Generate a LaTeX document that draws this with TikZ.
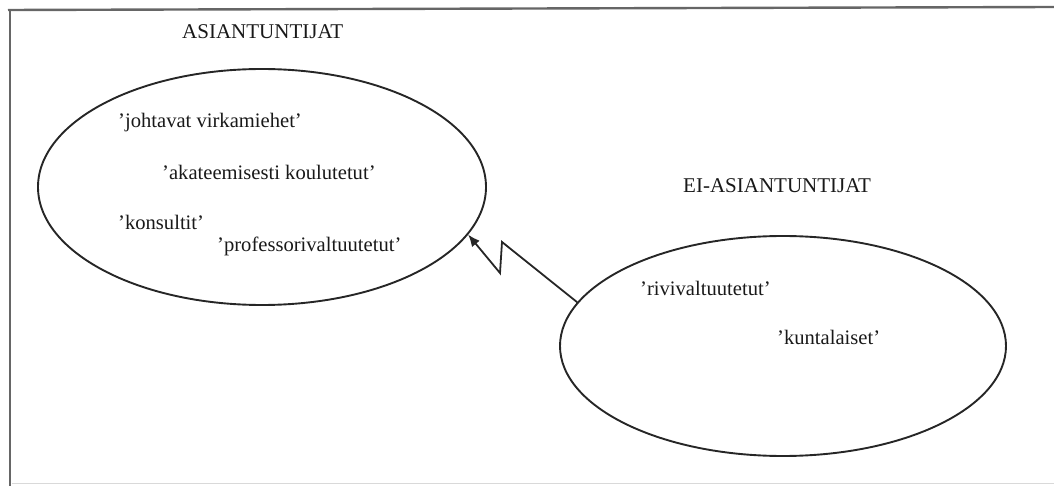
\documentclass[tikz,border=0pt]{standalone}
\usepackage{fontspec}
\setmainfont{Liberation Serif}
\usetikzlibrary{shapes.geometric,arrows.meta}
\tikzset{
  frameline/.style={line width=2.4pt,draw=black!60},
  blob/.style={ellipse,draw=black!85,line width=1.9pt,inner sep=0pt},
  lbl/.style={font=\fontsize{20.6pt}{23pt}\selectfont,text=black!90,inner sep=0pt,anchor=west},
  ttl/.style={font=\fontsize{21pt}{23pt}\selectfont,text=black!90,inner sep=0pt,anchor=west},
  zap/.style={draw=black!85,line width=1.8pt,-{Latex[length=12pt,width=10pt,fill=black!85]}}
}
\begin{document}
\begin{tikzpicture}[x=1pt,y=-1pt]
\useasboundingbox (0,0) rectangle (1054,486);
% frame (cropped)
\draw[frameline] (8,10) -- (1054,7);
\draw[frameline] (10,10) -- (10,486);
\draw[line width=1pt,draw=black!15] (12,483) -- (1054,483);
% ellipses
\node[blob,minimum width=448,minimum height=236] (L) at (262,187) {};
\node[blob,minimum width=446,minimum height=220] (R) at (783,346) {};
% titles
\node[ttl] (tL) at (182,32) {ASIANTUNTIJAT};
\node[ttl] (tR) at (683,186) {EI-ASIANTUNTIJAT};
% members
\node[lbl] (a1) at (118,123) {’johtavat virkamiehet’};
\node[lbl] (a2) at (162,172) {’akateemisesti koulutetut’};
\node[lbl] (a3) at (118,222) {’konsultit’};
\node[lbl] (a4) at (217,246) {’professorivaltuutetut’};
\node[lbl] (b1) at (640,288) {’rivivaltuutetut’};
\node[lbl] (b2) at (777,337) {’kuntalaiset’};
% lightning connector
\coordinate (z1) at (502,242);
\coordinate (z2) at (500,273);
\draw[zap] (R.168) -- (z1) -- (z2) -- (L.-13);
\end{tikzpicture}
\end{document}
